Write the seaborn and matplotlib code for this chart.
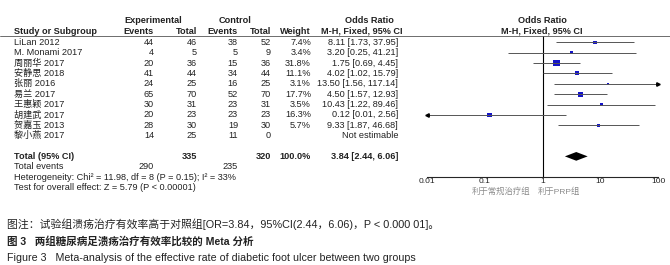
import numpy as np
import pandas as pd
import matplotlib
matplotlib.use("Agg")
import matplotlib.pyplot as plt
import seaborn as sns

# ---- data ----
studies = ["LiLan 2012", "M. Monami 2017", "周丽华 2017", "安静思 2018", "张丽 2016",
           "易兰 2017", "王惠颖 2017", "胡建武 2017", "贺嘉玉 2013", "黎小燕 2017"]
exp_events = [44, 4, 20, 41, 24, 65, 30, 20, 28, 14]
exp_total = [46, 5, 36, 44, 25, 70, 31, 23, 30, 25]
ctrl_events = [38, 5, 15, 34, 16, 52, 23, 23, 19, 11]
ctrl_total = [52, 9, 36, 44, 25, 70, 31, 23, 30, 0]
weights = [7.4, 3.4, 31.8, 11.1, 3.1, 17.7, 3.5, 16.3, 5.7, np.nan]
odds = [8.11, 3.20, 1.75, 4.02, 13.50, 4.50, 10.43, 0.12, 9.33, np.nan]
ci_low = [1.73, 0.25, 0.69, 1.02, 1.56, 1.57, 1.22, 0.01, 1.87, np.nan]
ci_high = [37.95, 41.21, 4.45, 15.79, 117.14, 12.93, 89.46, 2.56, 46.68, np.nan]

total_exp, total_ctrl = 335, 320
events_exp, events_ctrl = 290, 235
pooled_or, pooled_low, pooled_high = 3.84, 2.44, 6.06
heterogeneity = "Heterogeneity: Chi² = 11.98, df = 8 (P = 0.15); I² = 33%"
overall_test = "Test for overall effect: Z = 5.79 (P < 0.00001)"
x_ticks = [0.01, 0.1, 1, 10, 100]
x_ticklabels = ["0.01", "0.1", "1", "10", "100"]
favours = ["利于常规治疗组", "利于PRP组"]
notes = ["图注：试验组溃疡治疗有效率高于对照组[OR=3.84，95%CI(2.44，6.06)，P < 0.000 01]。",
         "图 3   两组糖尿病足溃疡治疗有效率比较的 Meta 分析",
         "Figure 3   Meta-analysis of the effective rate of diabetic foot ulcer between two groups"]

df = pd.DataFrame({"study": studies, "ev_e": exp_events, "tot_e": exp_total,
                   "ev_c": ctrl_events, "tot_c": ctrl_total, "weight": weights,
                   "or": odds, "lo": ci_low, "hi": ci_high})
df["row"] = np.arange(len(df))
total_row = len(df) + 1

sns.set_style("white")
plt.rcParams["font.family"] = ["Liberation Sans", "Noto Sans CJK SC", "DejaVu Sans"]

W, H = 670, 265
fig = plt.figure(figsize=(W / 100, H / 100), dpi=100)

ROW0, ROWH = 42.3, 10.37
FS = 6.6
TXT = "#222222"

# column right edges (pixels)
C_EV_E, C_TOT_E, C_EV_C, C_TOT_C, C_W, C_OR = 154, 197, 238, 271, 311, 398


def row_px(i):
    return ROW0 + ROWH * i


def txt(x, y, s, ha="left", **kw):
    kw.setdefault("fontsize", FS)
    kw.setdefault("color", TXT)
    fig.text(x / W, 1 - y / H, s, ha=ha, va="center", **kw)


# header
txt(153, 20.5, "Experimental", ha="center", weight="bold")
txt(235, 20.5, "Control", ha="center", weight="bold")
txt(369, 20.5, "Odds Ratio", ha="center", weight="bold")
txt(542, 20.5, "Odds Ratio", ha="center", weight="bold")
txt(14, 31, "Study or Subgroup", weight="bold")
for x, s in [(C_EV_E, "Events"), (C_TOT_E, "Total"), (C_EV_C, "Events"),
             (C_TOT_C, "Total"), (C_W, "Weight")]:
    txt(x, 31, s, ha="right", weight="bold")
txt(362, 31, "M-H, Fixed, 95% CI", ha="center", weight="bold")
txt(542, 31, "M-H, Fixed, 95% CI", ha="center", weight="bold")
fig.add_artist(plt.Line2D([0, 1], [1 - 35.5 / H] * 2, color="#555555", lw=0.6))

# study rows
for _, r in df.iterrows():
    y = row_px(r["row"])
    txt(14, y, r["study"])
    txt(C_EV_E, y, f"{r['ev_e']}", ha="right")
    txt(C_TOT_E, y, f"{r['tot_e']}", ha="right")
    txt(C_EV_C, y, f"{r['ev_c']}", ha="right")
    txt(C_TOT_C, y, f"{r['tot_c']}", ha="right")
    if np.isnan(r["or"]):
        txt(C_OR, y, "Not estimable", ha="right")
    else:
        txt(C_W, y, f"{r['weight']:.1f}%", ha="right")
        txt(C_OR, y, f"{r['or']:.2f} [{r['lo']:.2f}, {r['hi']:.2f}]", ha="right")

# totals
y = row_px(total_row)
txt(14, y, "Total (95% CI)", weight="bold")
txt(C_TOT_E, y, f"{total_exp}", ha="right", weight="bold")
txt(C_TOT_C, y, f"{total_ctrl}", ha="right", weight="bold")
txt(C_W, y, "100.0%", ha="right", weight="bold")
txt(C_OR, y, f"{pooled_or:.2f} [{pooled_low:.2f}, {pooled_high:.2f}]", ha="right", weight="bold")
y = row_px(total_row + 1)
txt(14, y, "Total events")
txt(C_EV_E, y, f"{events_exp}", ha="right")
txt(C_EV_C, y, f"{events_ctrl}", ha="right")
txt(14, row_px(total_row + 2), heterogeneity)
txt(14, row_px(total_row + 3), overall_test)

# forest panel
x0, x1, ytop, ybot = 427, 658, 35.5, 177
ax = fig.add_axes([x0 / W, 1 - ybot / H, (x1 - x0) / W, (ybot - ytop) / H])
ax.set_xscale("log")
ax.set_xlim(x_ticks[0], x_ticks[-1])
ax.set_ylim((ybot - ROW0) / ROWH, (ytop - ROW0) / ROWH)
ax.patch.set_alpha(0)
ax.axvline(1, color="black", lw=0.8)

est = df.dropna(subset=["or"])
xmin, xmax = x_ticks[0], x_ticks[-1]
for _, r in est.iterrows():
    lo, hi = max(r["lo"], xmin), min(r["hi"], xmax)
    ax.hlines(r["row"], lo, hi, color="#555555", lw=0.7)
    if r["hi"] > xmax:
        ax.plot(xmax, r["row"], marker=">", color="black", ms=2.5, clip_on=False)
    if r["lo"] <= xmin:
        ax.plot(xmin, r["row"], marker="<", color="black", ms=2.5, clip_on=False)

sns.scatterplot(data=est, x="or", y="row", size="weight", sizes=(3, 22),
                marker="s", color="#1414c8", linewidth=0, legend=False, ax=ax)

dh = 0.42
ax.fill([pooled_low, pooled_or, pooled_high, pooled_or],
        [total_row, total_row - dh, total_row, total_row + dh], color="black", lw=0)

for side in ["top", "right", "left"]:
    ax.spines[side].set_visible(False)
ax.spines["bottom"].set_linewidth(0.8)
ax.set_xticks(x_ticks)
ax.set_xticklabels(x_ticklabels)
ax.minorticks_off()
ax.tick_params(axis="x", direction="in", length=3.5, width=0.8, pad=0.5,
               labelsize=6.0, labelcolor=TXT)
ax.set_yticks([])
ax.set_xlabel("")
ax.set_ylabel("")

txt(501, 191.5, favours[0], ha="center", color="#8a8a8a", fontsize=6.0)
txt(559, 191.5, favours[1], ha="center", color="#8a8a8a", fontsize=6.0)

# caption
cap_font = ["Liberation Sans", "Noto Sans CJK SC"]
txt(7, 224, notes[0], fontsize=7.8, family=cap_font)
txt(7, 241, notes[1], fontsize=7.6, family=cap_font, weight="bold")
txt(7, 258, notes[2], fontsize=7.7, family=cap_font)

fig.savefig("out.png", dpi=100)
